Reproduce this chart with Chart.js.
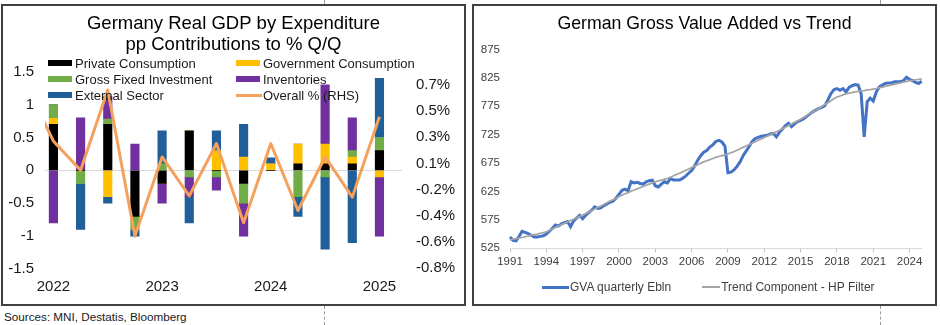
<!DOCTYPE html>
<html lang="en">
<head>
    <meta charset="UTF-8">
    <title>Germany GDP Contributions and GVA Trend</title>
    <script src="https://cdn.jsdelivr.net/npm/chart.js"></script>
    <style>
        body {
            margin: 0;
            width: 940px;
            height: 325px;
            position: relative;
            overflow: hidden;
            background: #ffffff;
            font-family: "Liberation Sans", Arial, sans-serif;
        }

        /* Bordered panels, one per chart */
        .panel {
            position: absolute;
            top: 4px;
            width: 465px;
            height: 302px;
            box-sizing: border-box;
            border: 2px solid #404040;
        }
        #leftPanel { left: 1px; }
        #rightPanel { left: 472px; }
        .panel canvas { position: absolute; left: 0; top: 0; }

        /* Two-column legend of the left chart */
        #gdpLegend {
            position: absolute;
            left: 48px;
            top: 55px;
            display: grid;
            grid-template-columns: 188px auto;
            grid-auto-rows: 16px;
            font-size: 13px;
            color: #1a1a1a;
        }
        .item { display: flex; align-items: center; white-space: nowrap; }
        .swatch { width: 27px; flex: none; display: flex; align-items: center; }
        .swatch span { display: block; }

        /* One-row legend of the right chart */
        #gvaLegend {
            position: absolute;
            left: 542px;
            top: 279px;
            height: 16px;
            display: flex;
            font-size: 12px;
            color: #404040;
        }
        #gvaLegend .item { margin-right: 31px; }
        #gvaLegend .swatch { width: auto; margin-right: 1px; }

        .source {
            position: absolute;
            left: 4px;
            top: 309px;
            font-size: 11.7px;
            line-height: 15px;
            color: #1a1a1a;
        }

        /* page-break marks between the panels */
        .pagebreak { position: absolute; width: 0; border-left: 1px dashed #9a9a9a; }
    </style>
</head>
<body>

    <div class="panel" id="leftPanel">
        <canvas id="gdpChart" width="461" height="298"></canvas>
    </div>
    <div class="panel" id="rightPanel">
        <canvas id="gvaChart" width="461" height="298"></canvas>
    </div>

    <div id="gdpLegend"></div>
    <div id="gvaLegend"></div>
    <div class="source">Sources: MNI, Destatis, Bloomberg</div>

    <div class="pagebreak" style="left:324px; top:0; height:4px; border-left-style:solid;"></div>
    <div class="pagebreak" style="left:324px; top:306px; height:19px;"></div>
    <div class="pagebreak" style="left:880px; top:0; height:4px; border-left-style:solid;"></div>
    <div class="pagebreak" style="left:880px; top:306px; height:19px;"></div>

    <script>
        Chart.defaults.font.family = '"Liberation Sans", Arial, sans-serif';
        Chart.defaults.animation = false;

        // ---- Left chart: pp contributions to % Q/Q, 2022 Q1 .. 2025 Q1 ----
        const quarters = ['2022 Q1', '2022 Q2', '2022 Q3', '2022 Q4', '2023 Q1', '2023 Q2', '2023 Q3',
                          '2023 Q4', '2024 Q1', '2024 Q2', '2024 Q3', '2024 Q4', '2025 Q1'];
        const privateCons = [0.70, 0.00, 0.70, -0.70, -0.20, 0.60, 0.00, -0.20, 0.00, 0.10, 0.10, 0.10, 0.30];
        const governmentCons = [0.09, 0.00, -0.40, 0.00, 0.00, 0.00, 0.30, 0.20, 0.10, 0.30, 0.30, 0.10, -0.10];
        const fixedInvestment = [0.21, -0.20, 0.08, -0.20, 0.10, -0.10, -0.10, -0.30, 0.00, -0.40, -0.10, 0.10, 0.20];
        const inventories = [-0.80, 0.80, 0.34, 0.40, -0.30, -0.30, -0.20, -0.50, 0.00, 0.00, 0.90, 0.50, -0.90];
        const externalSector = [0.00, -0.70, -0.10, -0.10, 0.50, -0.40, 0.30, 0.50, 0.09, -0.30, -1.10, -1.10, 0.90];
        const overallGrowth = [0.24, 0.00, 0.66, -0.54, 0.11, -0.21, 0.22, -0.43, 0.22, -0.33, 0.11, -0.22, 0.44];
        const overallPrevQuarter = 0.70;   // 2021 Q4, only its segment enters the plot
        const yearTickLabels = ['2022', '2023', '2024', '2025'];
        const yearTickIndex = [0, 4, 8, 12];
        const rhsTickLabels = ['-0.8%', '-0.6%', '-0.4%', '-0.2%', '0.1%', '0.3%', '0.5%', '0.7%'];

        // ---- Right chart: GVA quarterly (EUR bn) and HP-filter trend, 1991 Q1 .. 2025 Q1 ----
        const gvaStartYear = 1991;
        const gvaQuarterly = [
            545, 539, 538, 546,   // 1991
            555, 553, 551, 548,   // 1992
            545, 545, 546, 547,   // 1993
            550, 555, 560, 566,   // 1994
            564, 568, 570, 572,   // 1995
            563, 573, 578, 583,   // 1996
            577, 583, 588, 592,   // 1997
            598, 595, 596, 600,   // 1998
            603, 606, 608, 613,   // 1999
            620, 627, 629, 626,   // 2000
            642, 640, 641, 639,   // 2001
            638, 642, 644, 645,   // 2002
            635, 633, 638, 642,   // 2003
            640, 648, 645, 645,   // 2004
            645, 648, 652, 657,   // 2005
            662, 670, 680, 688,   // 2006
            694, 697, 703, 707,   // 2007
            713, 715, 712, 705,   // 2008
            658, 659, 663, 669,   // 2009
            677, 688, 696, 704,   // 2010
            713, 718, 720, 722,   // 2011
            723, 724, 726, 727,   // 2012
            721, 729, 735, 741,   // 2013
            745, 739, 744, 748,   // 2014
            750, 753, 757, 761,   // 2015
            765, 768, 771, 773,   // 2016
            776, 786, 797, 804,   // 2017
            806, 803, 806, 800,   // 2018
            808, 811, 813, 812,   // 2019
            797, 721, 783, 789,   // 2020
            784, 800, 809, 812,   // 2021
            815, 816, 816, 818,   // 2022
            818, 818, 820, 826,   // 2023
            822, 820, 817, 815,   // 2024
            819                   // 2025
        ];
        const hpTrend = [
            540, 541, 542, 543,
            544, 545.5, 546.5, 548,
            549, 550, 551.5, 552.5,
            554, 556.5, 559, 561.5,
            564, 566.5, 569, 571.5,
            574, 576, 578.5, 581,
            583.5, 586, 589, 591.5,
            594, 597, 599.5, 602,
            605, 608, 610.5, 613,
            616, 618.5, 621, 623,
            625.5, 627.5, 629.5, 631.5,
            634, 636, 638, 640,
            642, 643.5, 645, 646.5,
            648, 650, 652.5, 655,
            657, 659.5, 662, 664.5,
            667, 669.5, 672, 674.5,
            677, 679, 681, 683,
            685, 686.5, 688, 689.5,
            691, 693, 695, 697.5,
            700, 702.5, 705, 707.5,
            710, 712.5, 715, 717.5,
            720, 722.5, 725, 727.5,
            730, 732.5, 735.5, 738,
            741, 743.5, 746.5, 749,
            752, 755, 758.5, 761.5,
            765, 768, 771.5, 774.5,
            778, 781, 784.5, 788,
            791, 793, 795, 796.5,
            798, 799, 800, 801,
            802, 802.5, 803.5, 804,
            805, 806, 807.5, 808.5,
            810, 811, 812.5, 813.5,
            815, 816, 817.5, 818.5,
            820, 820.5, 821.5, 822,
            823
        ];
        const gvaQuarters = gvaQuarterly.map((v, i) => (gvaStartYear + Math.floor(i / 4)) + ' Q' + (i % 4 + 1));

        const toPoints = arr => arr.map((v, i) => ({ x: i, y: v }));

        function barSet(label, values, color) {
            return {
                type: 'bar',
                label: label,
                data: toPoints(values),
                backgroundColor: color,
                borderWidth: 0,
                barThickness: 8.5,
                yAxisID: 'y',
                order: 1
            };
        }

        // builds a legend row/grid in HTML from a chart's datasets
        function buildLegend(boxId, datasets, swatchFor) {
            const box = document.getElementById(boxId);
            datasets.forEach(ds => {
                const item = document.createElement('div');
                item.className = 'item';
                const sw = document.createElement('div');
                sw.className = 'swatch';
                const mark = document.createElement('span');
                const s = swatchFor(ds);
                mark.style.width = s.w + 'px';
                mark.style.height = s.h + 'px';
                mark.style.background = s.color;
                sw.appendChild(mark);
                item.appendChild(sw);
                item.appendChild(document.createTextNode(ds.label));
                box.appendChild(item);
            });
        }

        const gdpChart = new Chart(document.getElementById('gdpChart'), {
            type: 'bar',
            data: {
                datasets: [
                    barSet('Private Consumption', privateCons, '#000000'),
                    barSet('Government Consumption', governmentCons, '#FFC000'),
                    barSet('Gross Fixed Investment', fixedInvestment, '#70AD47'),
                    barSet('Inventories', inventories, '#7030A0'),
                    barSet('External Sector', externalSector, '#215F9A'),
                    {
                        type: 'line',
                        label: 'Overall % (RHS)',
                        data: [{ x: -1, y: overallPrevQuarter }].concat(toPoints(overallGrowth)),
                        borderColor: '#F4A15D',
                        backgroundColor: '#F4A15D',
                        borderWidth: 3,
                        pointRadius: 0,
                        tension: 0,
                        borderJoinStyle: 'round',
                        yAxisID: 'y1',
                        order: 0
                    }
                ]
            },
            options: {
                responsive: false,
                layout: { padding: 0 },
                plugins: {
                    legend: { display: false },
                    tooltip: { enabled: false },
                    title: {
                        display: true,
                        text: ['Germany Real GDP by Expenditure', 'pp Contributions to % Q/Q'],
                        color: '#000000',
                        font: { size: 18.5, weight: 'normal', lineHeight: 1.135 },
                        padding: { top: 7.5, bottom: 16.2 }
                    }
                },
                scales: {
                    x: {
                        type: 'linear',
                        min: -0.31,
                        max: 12.83,
                        offset: false,
                        stacked: true,
                        grid: { display: false, drawTicks: false },
                        border: { display: false },
                        afterBuildTicks: s => { s.ticks = yearTickIndex.map(v => ({ value: v })); },
                        afterFit: s => { s.height = 35; },
                        ticks: {
                            padding: 9,
                            color: '#1a1a1a',
                            font: { size: 15 },
                            maxRotation: 0,
                            callback: (v, i) => yearTickLabels[i]
                        }
                    },
                    y: {
                        position: 'left',
                        stacked: true,
                        min: -1.5,
                        max: 1.5,
                        grid: {
                            drawTicks: false,
                            color: ctx => ctx.tick && ctx.tick.value === 0 ? '#D9D9D9' : 'rgba(0,0,0,0)'
                        },
                        border: { display: false },
                        afterFit: s => { s.width = 42; },
                        ticks: {
                            stepSize: 0.5,
                            padding: 11,
                            color: '#1a1a1a',
                            font: { size: 15 },
                            callback: v => String(v)
                        }
                    },
                    y1: {
                        position: 'right',
                        min: -0.81,
                        max: 0.81,
                        grid: { display: false, drawTicks: false },
                        border: { display: false },
                        afterBuildTicks: s => {
                            s.ticks = rhsTickLabels.map((t, k) => ({ value: -0.8 + k * 1.5 / 7 }));
                        },
                        afterFit: s => { s.width = 62; },
                        ticks: {
                            padding: 14,
                            color: '#1a1a1a',
                            font: { size: 15 },
                            callback: (v, i) => rhsTickLabels[i]
                        }
                    }
                }
            }
        });

        buildLegend('gdpLegend', gdpChart.data.datasets, ds => ds.type === 'line'
            ? { w: 26, h: 3, color: ds.borderColor }
            : { w: 24, h: 6, color: ds.backgroundColor });

        const gvaChart = new Chart(document.getElementById('gvaChart'), {
            type: 'line',
            data: {
                labels: gvaQuarters,
                datasets: [
                    {
                        label: 'GVA quarterly Ebln',
                        data: gvaQuarterly,
                        borderColor: '#4472C4',
                        borderWidth: 3,
                        pointRadius: 0,
                        tension: 0,
                        order: 1
                    },
                    {
                        label: 'Trend Component - HP Filter',
                        data: hpTrend,
                        borderColor: '#A5A5A5',
                        borderWidth: 1.75,
                        pointRadius: 0,
                        tension: 0,
                        order: 0
                    }
                ]
            },
            options: {
                responsive: false,
                layout: { padding: 0 },
                plugins: {
                    legend: { display: false },
                    tooltip: { enabled: false },
                    title: {
                        display: true,
                        text: 'German Gross Value Added vs Trend',
                        color: '#000000',
                        font: { size: 17.7, weight: 'normal', lineHeight: 1.2 },
                        padding: { top: 7.4, bottom: 14.7 }
                    }
                },
                scales: {
                    x: {
                        grid: {
                            drawOnChartArea: false,
                            drawTicks: true,
                            tickLength: 4,
                            color: '#BFBFBF'
                        },
                        border: { display: true, color: '#D9D9D9' },
                        afterFit: s => { s.height = 55.7; },
                        ticks: {
                            autoSkip: false,
                            maxRotation: 0,
                            minRotation: 0,
                            padding: 2.5,
                            color: '#404040',
                            font: { size: 11.5 },
                            callback: (v, i) => (i % 12 === 0 ? gvaQuarters[i].slice(0, 4) : null)
                        }
                    },
                    y: {
                        min: 525,
                        max: 875,
                        grid: { display: false, drawTicks: false },
                        border: { display: false },
                        afterFit: s => { s.width = 36; },
                        ticks: {
                            stepSize: 50,
                            padding: 10,
                            color: '#404040',
                            font: { size: 11.5 }
                        }
                    },
                    yPad: {
                        type: 'linear',
                        position: 'right',
                        grid: { display: false, drawTicks: false },
                        border: { display: false },
                        ticks: { display: false },
                        afterFit: s => { s.width = 13.3; }
                    }
                }
            }
        });

        buildLegend('gvaLegend', gvaChart.data.datasets, ds => ({
            w: ds.borderWidth > 2 ? 27 : 18,
            h: ds.borderWidth > 2 ? 3 : 2,
            color: ds.borderColor
        }));
    </script>
</body>
</html>
